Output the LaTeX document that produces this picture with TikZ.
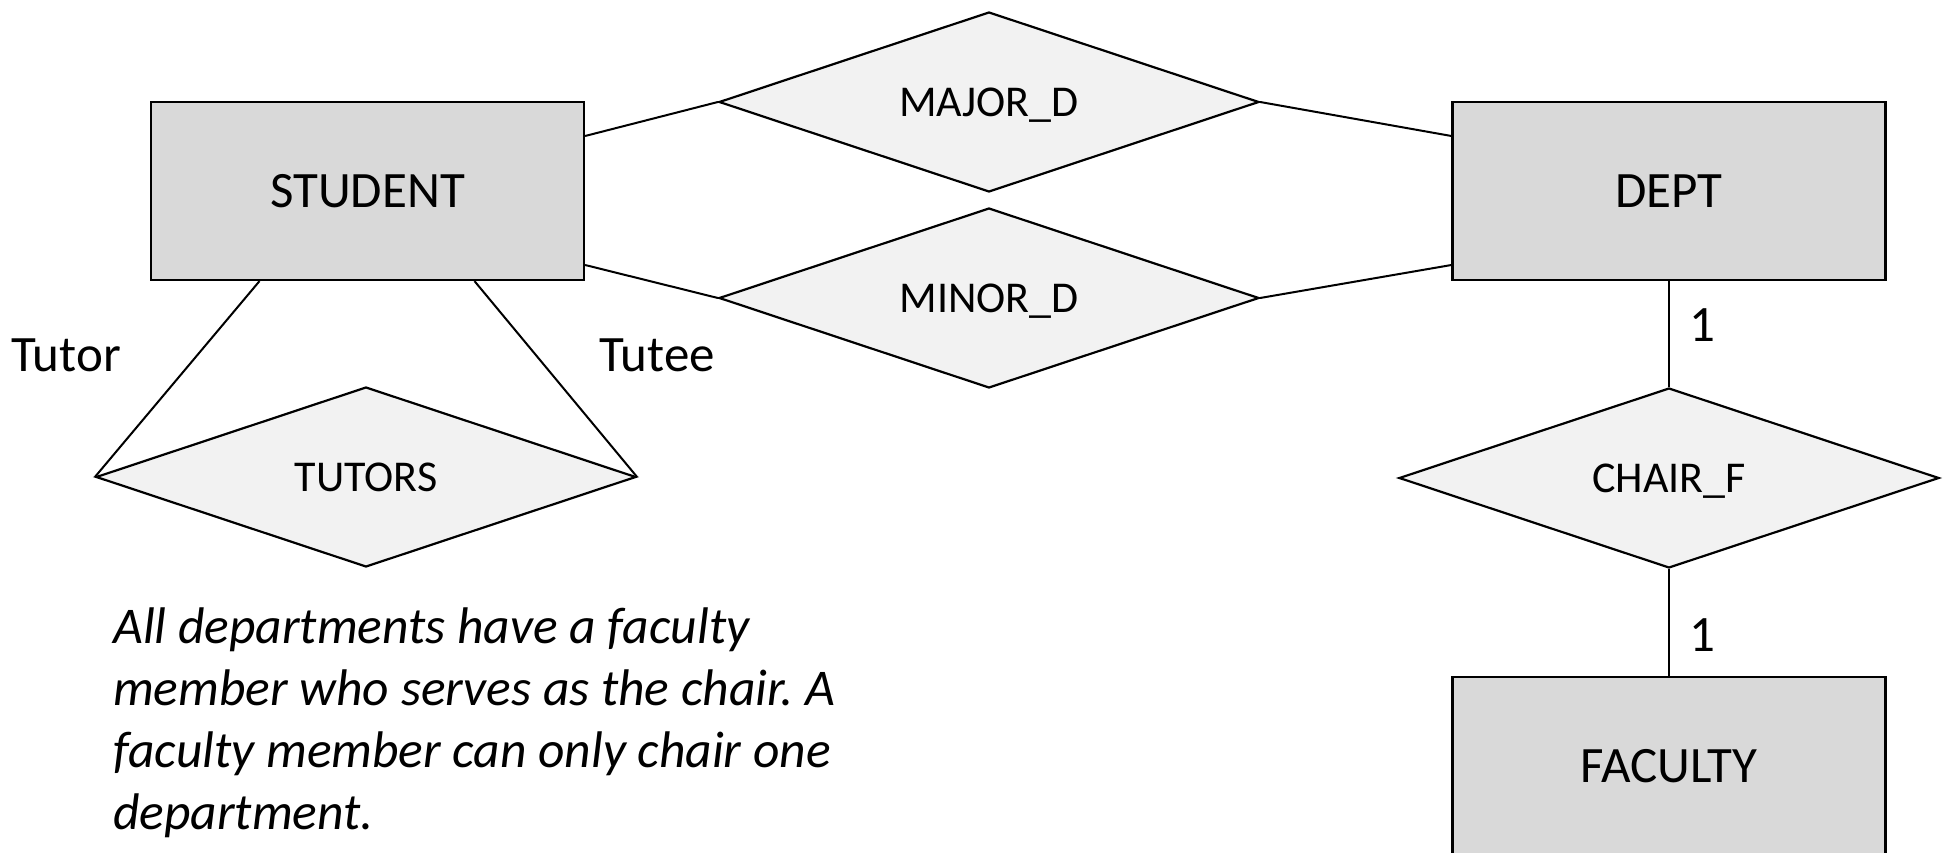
\documentclass[tikz,border=0pt]{standalone}
\usepackage{fontspec}
\setmainfont{Carlito}
\usetikzlibrary{shapes.geometric}
\definecolor{entfill}{HTML}{D9D9D9}
\definecolor{relfill}{HTML}{F2F2F2}
\begin{document}
\begin{tikzpicture}[x=1pt,y=-1pt,
  entity/.style={draw=black, line width=2.2pt, fill=entfill, minimum width=433pt, minimum height=178pt, inner sep=0pt, font=\fontsize{51}{60}\selectfont},
  rel/.style={diamond, shape aspect=3, draw=black, line width=2.2pt, fill=relfill, minimum width=540pt, minimum height=180pt, inner sep=0pt, text depth=0pt, font=\fontsize{44}{52}\selectfont},
  conn/.style={line width=2pt},
  lbl/.style={font=\fontsize{51}{60}\selectfont, inner sep=0pt}]
\useasboundingbox (0,0) rectangle (1944,853);
% entities
\node[entity] (student) at (367.5,191) {STUDENT};
\node[entity] (dept) at (1669,191) {DEPT};
\node[entity] (faculty) at (1669,766) {FACULTY};
% relationships
\node[rel] (major) at (989,102) {MAJOR\_D};
\node[rel] (minor) at (989,298) {MINOR\_D};
\node[rel] (tutors) at (366,477) {TUTORS};
\node[rel] (chair) at (1669,478) {CHAIR\_F};
% connectors
\draw[conn] ([yshift=55pt]student.east) -- (major.west);
\draw[conn] (major.east) -- ([yshift=55pt]dept.west);
\draw[conn] ([yshift=-74pt]student.east) -- (minor.west);
\draw[conn] (minor.east) -- ([yshift=-74pt]dept.west);
\draw[conn] ([xshift=-108pt]student.south) -- (tutors.west);
\draw[conn] ([xshift=107pt]student.south) -- (tutors.east);
\draw[conn] (dept.south) -- (chair.north);
\draw[conn] (chair.south) -- (faculty.north);
% labels
\node[lbl] (tutorlbl) at (66,355) {Tutor};
\node[lbl] (tuteelbl) at (657,355) {Tutee};
\node[lbl] (one1) at (1702,325) {1};
\node[lbl] (one2) at (1702,635) {1};
\node[lbl, anchor=base west, align=left, font=\fontsize{51.5}{62}\selectfont\itshape\frenchspacing] (note) at (113,829)
  {All departments have a faculty\\member who serves as the chair. A\\faculty member can only chair one\\department.};
\end{tikzpicture}
\end{document}
